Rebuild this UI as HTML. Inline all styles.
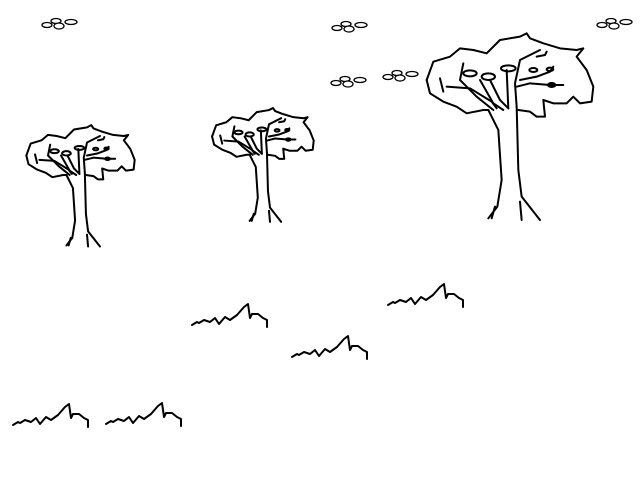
<!DOCTYPE html>
<html><head><meta charset="utf-8"><style>
html,body{margin:0;padding:0;background:#fff;width:640px;height:480px;overflow:hidden}
svg{display:block}
</style></head><body>
<svg width="640" height="480" viewBox="0 0 640 480" xmlns="http://www.w3.org/2000/svg">
<defs>
<g id="tree" fill="none" stroke="#000" stroke-width="2" vector-effect="non-scaling-stroke" stroke-linejoin="round" stroke-linecap="round">
  <path vector-effect="non-scaling-stroke" d="M20,150 L40,95 L90,80 L120,55 L160,60 L200,70 L240,30 L300,20 L320,10 L330,25 L370,40 L420,55 L470,60 L490,55 L470,80 L500,120 L520,170 L515,215 L480,220 L460,200 L440,220 L400,220 L370,210 L375,260 L350,260 L330,245 L295,240"/>
  <path vector-effect="non-scaling-stroke" d="M20,150 L30,190 L70,215 L110,230 L140,250 L190,240 L205,240"/>
  <path vector-effect="non-scaling-stroke" d="M205,240 L235,300 L245,450 L232,530 L205,565"/>
  <path vector-effect="non-scaling-stroke" d="M290,230 L295,420 L305,500 L360,570"/>
  <path vector-effect="non-scaling-stroke" d="M300,515 L305,570"/>
  <path vector-effect="non-scaling-stroke" d="M225,530 L215,565"/>
  <path vector-effect="non-scaling-stroke" d="M80,170 L150,175 L215,215 L230,235"/>
  <path vector-effect="non-scaling-stroke" d="M130,100 L120,150 L170,200 L220,240"/>
  <path vector-effect="non-scaling-stroke" d="M180,150 L220,220 L250,240"/>
  <path vector-effect="non-scaling-stroke" d="M210,150 L240,210 L265,235"/>
  <path vector-effect="non-scaling-stroke" d="M260,120 L265,235"/>
  <path vector-effect="non-scaling-stroke" d="M360,60 L300,90 L285,160 L290,230"/>
  <path vector-effect="non-scaling-stroke" d="M290,170 L330,160 L390,165 L430,165"/>
  <path vector-effect="non-scaling-stroke" d="M300,150 L350,140 L390,125 L400,110"/>
  <path vector-effect="non-scaling-stroke" d="M350,80 L375,75 L380,65"/>
  <path vector-effect="non-scaling-stroke" d="M60,145 L70,185"/>
  <ellipse vector-effect="non-scaling-stroke" cx="150" cy="130" rx="20" ry="9"/>
  <ellipse vector-effect="non-scaling-stroke" cx="205" cy="140" rx="20" ry="10"/>
  <ellipse vector-effect="non-scaling-stroke" cx="265" cy="115" rx="22" ry="9"/>
  <ellipse vector-effect="non-scaling-stroke" cx="340" cy="120" rx="12" ry="6"/>
  <ellipse vector-effect="non-scaling-stroke" cx="395" cy="165" rx="11" ry="6"/>
  <ellipse vector-effect="non-scaling-stroke" cx="390" cy="118" rx="10" ry="5"/>
</g>
<g id="grass" fill="none" stroke="#000" stroke-width="2" stroke-linejoin="round" stroke-linecap="round">
  <path d="M0,0 L5,-3 L7,-2 L12,-5 L18,-3 L23,-7 L27,-1 L33,-8 L38,-5 L45,-10 L52,-18 L56,-21 L58,-7 L60,-11 L66,-11 L71,-7 L75,-5 L75,2"/>
</g>
<g id="cloud" fill="#fff" stroke="#000" stroke-width="1.3">
  <ellipse cx="5" cy="8" rx="5" ry="2.5"/>
  <ellipse cx="14" cy="4" rx="5" ry="2.5"/>
  <ellipse cx="17" cy="9" rx="5" ry="3"/>
  <ellipse cx="29" cy="5" rx="6" ry="2.5"/>
</g>
</defs>
<use href="#tree" transform="translate(420,30) scale(0.3333)"/>
<use href="#tree" transform="translate(22,123) scale(0.2167)"/>
<use href="#tree" transform="translate(208,106) scale(0.2033)"/>
<use href="#grass" transform="translate(13,425)"/>
<use href="#grass" transform="translate(106,424)"/>
<use href="#grass" transform="translate(192,325)"/>
<use href="#grass" transform="translate(292,357)"/>
<use href="#grass" transform="translate(388,305)"/>
<use href="#cloud" transform="translate(42,17)"/>
<use href="#cloud" transform="translate(332,20)"/>
<use href="#cloud" transform="translate(331,75)"/>
<use href="#cloud" transform="translate(383,69)"/>
<use href="#cloud" transform="translate(597,17)"/>
</svg>
</body></html>
